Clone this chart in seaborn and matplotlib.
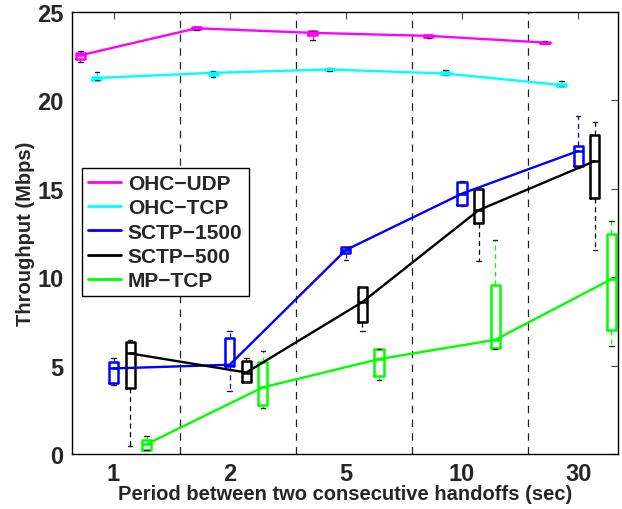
import numpy as np
import pandas as pd
import matplotlib
matplotlib.use("Agg")
import matplotlib.pyplot as plt
import seaborn as sns

# ---------------- data ----------------
periods = ["1", "2", "5", "10", "30"]
series = ["OHC\u2212UDP", "OHC\u2212TCP", "SCTP\u22121500", "SCTP\u2212500", "MP\u2212TCP"]
colors = ["#FF00FF", "#00FFFF", "#0000FF", "#000000", "#00FF00"]

# five-number summaries per period: [whisker low, q1, median, q3, whisker high]
ohc_udp = [[22.15, 22.35, 22.55, 22.7, 22.8],
           [24.0, 24.03, 24.08, 24.13, 24.15],
           [23.4, 23.68, 23.82, 23.92, 23.95],
           [23.55, 23.6, 23.65, 23.7, 23.72],
           [23.2, 23.22, 23.27, 23.32, 23.34]]
ohc_tcp = [[21.15, 21.17, 21.27, 21.35, 21.6],
           [21.3, 21.45, 21.56, 21.62, 21.64],
           [21.68, 21.7, 21.75, 21.8, 21.82],
           [21.45, 21.47, 21.52, 21.58, 21.72],
           [20.8, 20.82, 20.87, 20.95, 21.07]]
sctp_1500 = [[3.9, 3.99, 4.84, 5.18, 5.44],
             [3.58, 4.97, 5.05, 6.57, 6.97],
             [11.0, 11.36, 11.54, 11.71, 11.73],
             [14.0, 14.1, 14.73, 15.4, 15.42],
             [16.16, 16.29, 17.14, 17.42, 19.11]]
sctp_500 = [[0.47, 3.71, 5.69, 6.31, 6.46],
            [4.05, 4.09, 4.61, 5.24, 5.44],
            [6.97, 7.47, 8.6, 9.42, 9.45],
            [10.89, 13.09, 13.79, 14.97, 15.0],
            [11.54, 14.46, 16.57, 18.02, 18.77]]
mp_tcp = [[0.2, 0.23, 0.56, 0.79, 1.03],
          [2.6, 2.77, 3.77, 5.18, 5.84],
          [4.2, 4.42, 5.37, 5.93, 5.95],
          [5.95, 5.97, 6.46, 9.55, 12.1],
          [6.12, 7.02, 9.89, 12.47, 13.18]]
all_stats = [ohc_udp, ohc_tcp, sctp_1500, sctp_500, mp_tcp]

# ---------------- layout: 7 slots per period group ----------------
group_centers = [7 * i for i in range(len(periods))]
offsets = [-2, -1, 0, 1, 2]
separators = [c + 4 for c in group_centers[:-1]]

rows = []
med_rows = []
for s_name, off, stats in zip(series, offsets, all_stats):
    for gc, five in zip(group_centers, stats):
        pos = gc + off
        for v in five:
            rows.append({"pos": pos, "series": s_name, "value": v})
        med_rows.append({"pos": pos, "series": s_name, "median": five[2]})
df = pd.DataFrame(rows)
med = pd.DataFrame(med_rows)
palette = dict(zip(series, colors))

# ---------------- plot ----------------
sns.set_style("white")
plt.rcParams["font.family"] = ["Liberation Sans", "DejaVu Sans"]
plt.rcParams["font.weight"] = "bold"

fig = plt.figure(figsize=(6.22, 5.10), dpi=100)
ax = fig.add_axes([0.1158, 0.1078, 0.8778, 0.8667])

for xs in separators:
    ax.axvline(xs, color="#222222", linestyle=(0, (6, 5)), linewidth=0.9, zorder=1)

sns.boxplot(data=df, x="pos", y="value", hue="series", hue_order=series,
            palette=palette, native_scale=True, dodge=False, fill=False,
            whis=np.inf, width=0.55, linewidth=1.8, legend=False,
            whiskerprops=dict(linestyle=(0, (4, 3)), linewidth=0.9),
            capprops=dict(color="#222222", linewidth=1.0),
            ax=ax)

sns.lineplot(data=med, x="pos", y="median", hue="series", hue_order=series,
             palette=palette, linewidth=1.7, ax=ax, zorder=3)

ax.set_xlim(-2.5, 30.4)
ax.set_ylim(0, 25)
ax.set_xticks(group_centers)
ax.set_xticklabels(periods)
ax.set_yticks([0, 5, 10, 15, 20, 25])
ax.set_yticklabels(["0", "5", "10", "15", "20", "25"])
ax.tick_params(axis="both", direction="in", length=5, width=0.8,
               top=True, right=True, labelsize=17, pad=6, color="#444444")
for lab in ax.get_xticklabels() + ax.get_yticklabels():
    lab.set_fontweight("bold")
for sp in ax.spines.values():
    sp.set_color("black")
    sp.set_linewidth(1.0)

ax.set_xlabel("Period between two consecutive handoffs (sec)",
              fontsize=14.5, fontweight="bold", labelpad=-1)
ax.set_ylabel("Throughput (Mbps)", fontsize=14.5, fontweight="bold", labelpad=2)

leg = ax.legend(loc="upper left", bbox_to_anchor=(0.018, 0.647),
                borderaxespad=0, fancybox=False, framealpha=1,
                edgecolor="black", prop={"size": 15, "weight": "bold"},
                handlelength=1.6, handletextpad=0.3, labelspacing=0.25,
                borderpad=0.3)
leg.get_frame().set_linewidth(1.0)
for line in leg.get_lines():
    line.set_linewidth(2.0)

fig.savefig("out.png", dpi=100)
